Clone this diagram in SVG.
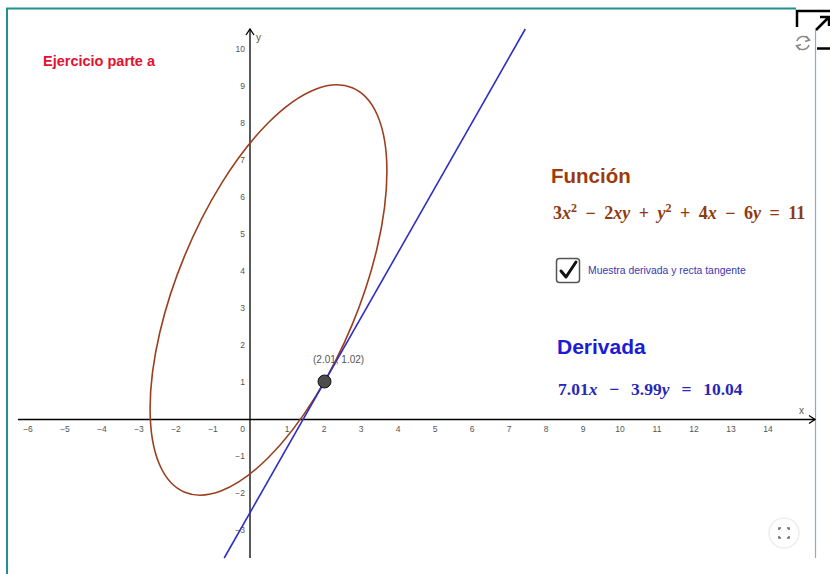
<svg xmlns="http://www.w3.org/2000/svg" width="830" height="574" viewBox="0 0 830 574">
<style>
.tick{font-family:"Liberation Sans",Arial,sans-serif;font-size:8.5px;fill:#555}
.tx{text-anchor:middle}
.ty{text-anchor:end}
.axis{stroke:#000;stroke-width:1.3;fill:none}
.math{font-family:"Liberation Serif","Times New Roman",serif;font-weight:bold}
.title{font-family:"Liberation Sans",Arial,sans-serif;font-weight:bold}
</style>
<rect x="0" y="0" width="830" height="574" fill="#fff"/>
<g id="frame">
<line x1="6" y1="8.5" x2="796" y2="8.5" stroke="#1f8f8f" stroke-width="2"/>
<line x1="7" y1="8" x2="7" y2="574" stroke="#1f8f8f" stroke-width="2"/>
<line x1="815.5" y1="30" x2="815.5" y2="558" stroke="#7fb0d8" stroke-width="1.2"/>
</g>
<g id="axes">
<line class="axis" x1="18" y1="419.5" x2="815" y2="419.5"/>
<path class="axis" d="M809 415.5 L815 419.5 L809 423.5"/>
<line class="axis" x1="250" y1="29" x2="250" y2="558"/>
<path class="axis" d="M246 35 L250 29 L254 35"/>
<text class="tick" x="256" y="41" style="font-size:10px">y</text>
<text class="tick" x="799" y="414" style="font-size:10px">x</text>
<g class="tick tx">
<text x="28" y="432">−6</text><text x="65" y="432">−5</text><text x="102" y="432">−4</text><text x="139" y="432">−3</text><text x="176" y="432">−2</text><text x="213" y="432">−1</text>
<text x="287" y="432">1</text><text x="324" y="432">2</text><text x="361" y="432">3</text><text x="398" y="432">4</text><text x="435" y="432">5</text><text x="472" y="432">6</text><text x="509" y="432">7</text><text x="546" y="432">8</text><text x="583" y="432">9</text><text x="620" y="432">10</text><text x="657" y="432">11</text><text x="694" y="432">12</text><text x="731" y="432">13</text><text x="768" y="432">14</text>
</g>
<text class="tick ty" x="245" y="432">0</text>
<g class="tick ty">
<text x="245" y="52">10</text><text x="245" y="89">9</text><text x="245" y="126">8</text><text x="245" y="163">7</text><text x="245" y="200">6</text><text x="245" y="237">5</text><text x="245" y="274">4</text><text x="245" y="311">3</text><text x="245" y="348">2</text><text x="245" y="385">1</text>
<text x="245" y="459">−1</text><text x="245" y="496">−2</text><text x="245" y="533">−3</text>
</g>
</g>
<g id="curve">
<ellipse cx="268.5" cy="290" rx="218.9" ry="90.6" transform="rotate(-67.5 268.5 290)" fill="none" stroke="#9a3f1f" stroke-width="1.6"/>
</g>
<g id="connectors">
<line x1="224.2" y1="558" x2="525.3" y2="29" stroke="#2e2ec4" stroke-width="1.6"/>
</g>
<g id="point">
<circle cx="324.5" cy="381.5" r="6.5" fill="#4d4d4d" stroke="#111" stroke-width="1"/>
<text class="tick" x="313" y="363" style="font-size:10px">(2.01, 1.02)</text>
</g>
<g id="label-ejercicio">
<text class="title" x="43" y="66" font-size="14.5" fill="#e2112e">Ejercicio parte a</text>
</g>
<g id="funcion">
<text class="title" x="551" y="183" font-size="20.5" fill="#9c3b0c">Función</text>
<text class="math" x="553" y="219" font-size="18" fill="#8e3a12" word-spacing="4">3<tspan font-style="italic">x</tspan><tspan dy="-7" font-size="12">2</tspan><tspan dy="7"> − 2</tspan><tspan font-style="italic">xy</tspan> + <tspan font-style="italic">y</tspan><tspan dy="-7" font-size="12">2</tspan><tspan dy="7"> + 4</tspan><tspan font-style="italic">x</tspan> − 6<tspan font-style="italic">y</tspan> = 11</text>
</g>
<g id="checkbox">
<rect x="556.5" y="258.5" width="23" height="24" rx="3" fill="#fff" stroke="#555" stroke-width="1.5"/>
<path d="M561 271 L566 277 L576 262" fill="none" stroke="#111" stroke-width="3" stroke-linecap="round" stroke-linejoin="round"/>
<text x="588" y="274" font-family="'Liberation Sans',Arial,sans-serif" font-size="10.4" fill="#3838b0">Muestra derivada y recta tangente</text>
</g>
<g id="derivada">
<text class="title" x="557" y="354" font-size="21" fill="#1c1cd6">Derivada</text>
<text class="math" x="558" y="395" font-size="17.5" fill="#2828b8" word-spacing="7.5">7.01<tspan font-style="italic">x</tspan> − 3.99<tspan font-style="italic">y</tspan> = 10.04</text>
</g>
<g id="reset-icon" fill="none" stroke="#8a8a8a" stroke-width="1.6">
<path d="M797 41 A6.5 6.5 0 0 1 809 40"/>
<path d="M809 45 A6.5 6.5 0 0 1 797 46"/>
<path d="M806 36 L809.5 40 L805 41.5"/>
<path d="M800 50 L796.5 46 L801 44.5"/>
</g>
<g id="fullscreen-top" fill="none" stroke="#000" stroke-width="2.5">
<path d="M797 27 L797 11 L830 11"/>
<path d="M816 30 L828 18 M820 17 L829 17 L829 26"/>
<line x1="817" y1="48.5" x2="830" y2="48.5"/>
</g>
<g id="fullscreen-button">
<circle cx="784" cy="533" r="15" fill="#fff" stroke="#eee" stroke-width="1.5"/>
<path d="M779 530 L779 528 L781 528 M787 528 L789 528 L789 530 M789 536 L789 538 L787 538 M781 538 L779 538 L779 536" fill="none" stroke="#666" stroke-width="1.5"/>
</g>
</svg>
